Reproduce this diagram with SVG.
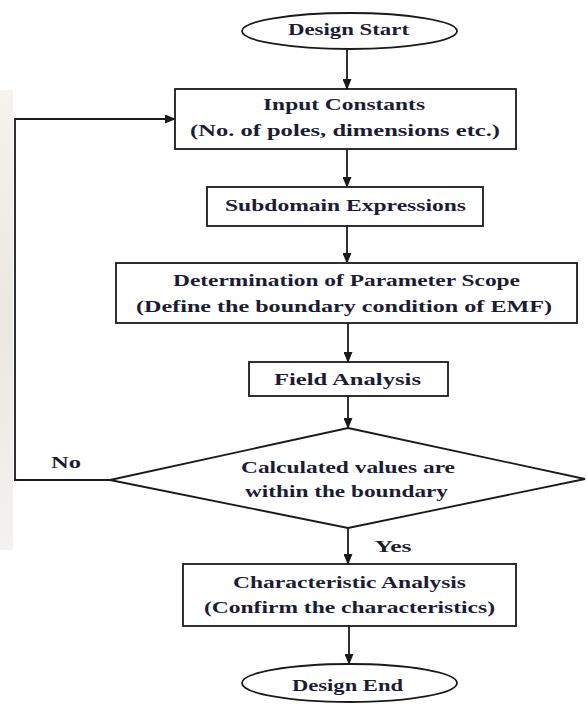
<svg xmlns="http://www.w3.org/2000/svg" width="587" height="704" viewBox="0 0 587 704">
  <style>
    .shape { fill: #ffffff; stroke: #1a1a1a; stroke-width: 1.8; }
    .conn { fill: none; stroke: #1a1a1a; stroke-width: 1.8; }
    .t { font-family: "Liberation Serif", "DejaVu Serif", serif; font-weight: bold; font-size: 17px; fill: #1c1c34; text-anchor: middle; dominant-baseline: central; }
  </style>
  <defs>
    <marker id="arrow" markerUnits="userSpaceOnUse" markerWidth="11" markerHeight="9" refX="10" refY="4.5" orient="auto">
      <path d="M0,0 L11,4.5 L0,9 z" fill="#1a1a1a"/>
    </marker>
    <linearGradient id="wm" x1="0" y1="0" x2="0" y2="1">
      <stop offset="0" stop-color="#f6f3ef"/>
      <stop offset="0.5" stop-color="#ece7e1"/>
      <stop offset="1" stop-color="#f4f2f0"/>
    </linearGradient>
  </defs>
  <rect x="0" y="0" width="587" height="704" fill="#ffffff"/>
  <rect x="0" y="90" width="13" height="460" fill="url(#wm)"/>

  <g id="connectors">
    <line class="conn" x1="347" y1="49" x2="347" y2="89" marker-end="url(#arrow)"/>
    <line class="conn" x1="347" y1="149" x2="347" y2="187" marker-end="url(#arrow)"/>
    <line class="conn" x1="347" y1="226" x2="347" y2="263" marker-end="url(#arrow)"/>
    <line class="conn" x1="348" y1="323" x2="348" y2="362" marker-end="url(#arrow)"/>
    <line class="conn" x1="348" y1="396" x2="348" y2="428" marker-end="url(#arrow)"/>
    <line class="conn" x1="348" y1="528" x2="348" y2="564" marker-end="url(#arrow)"/>
    <line class="conn" x1="349" y1="626" x2="349" y2="664" marker-end="url(#arrow)"/>
    <polyline class="conn" points="110,480 15,480 15,119 175,119" marker-end="url(#arrow)"/>
    <text class="t" x="66" y="462" textLength="30" lengthAdjust="spacingAndGlyphs">No</text>
    <text class="t" x="393" y="546" textLength="37" lengthAdjust="spacingAndGlyphs">Yes</text>
  </g>

  <g id="design-start">
    <ellipse class="shape" cx="349.5" cy="31" rx="107.5" ry="18"/>
    <text class="t" x="348.5" y="29" textLength="121" lengthAdjust="spacingAndGlyphs">Design Start</text>
  </g>

  <g id="input-constants">
    <rect class="shape" x="175" y="89" width="341" height="60"/>
    <text class="t" x="344" y="104" textLength="162" lengthAdjust="spacingAndGlyphs">Input Constants</text>
    <text class="t" x="345" y="130" textLength="310" lengthAdjust="spacingAndGlyphs">(No. of poles, dimensions etc.)</text>
  </g>

  <g id="subdomain">
    <rect class="shape" x="207" y="187" width="276" height="39"/>
    <text class="t" x="345.5" y="205" textLength="241" lengthAdjust="spacingAndGlyphs">Subdomain Expressions</text>
  </g>

  <g id="determination">
    <rect class="shape" x="116" y="263" width="461" height="60"/>
    <text class="t" x="346.5" y="280" textLength="347" lengthAdjust="spacingAndGlyphs">Determination of Parameter Scope</text>
    <text class="t" x="344" y="306" textLength="416" lengthAdjust="spacingAndGlyphs">(Define the boundary condition of EMF)</text>
  </g>

  <g id="field-analysis">
    <rect class="shape" x="249" y="362" width="199" height="34"/>
    <text class="t" x="347.5" y="379" textLength="147" lengthAdjust="spacingAndGlyphs">Field Analysis</text>
  </g>

  <g id="decision">
    <polygon class="shape" points="348,428 585,479 348,528 110,480"/>
    <text class="t" x="348" y="467" textLength="214" lengthAdjust="spacingAndGlyphs">Calculated values are</text>
    <text class="t" x="346.5" y="491" textLength="203" lengthAdjust="spacingAndGlyphs">within the boundary</text>
  </g>

  <g id="characteristic">
    <rect class="shape" x="183" y="564" width="333" height="62"/>
    <text class="t" x="349.5" y="582" textLength="233" lengthAdjust="spacingAndGlyphs">Characteristic Analysis</text>
    <text class="t" x="349.5" y="607" textLength="291" lengthAdjust="spacingAndGlyphs">(Confirm the characteristics)</text>
  </g>

  <g id="design-end">
    <ellipse class="shape" cx="349.5" cy="683" rx="107.5" ry="19"/>
    <text class="t" x="347.5" y="685" textLength="111" lengthAdjust="spacingAndGlyphs">Design End</text>
  </g>
</svg>
